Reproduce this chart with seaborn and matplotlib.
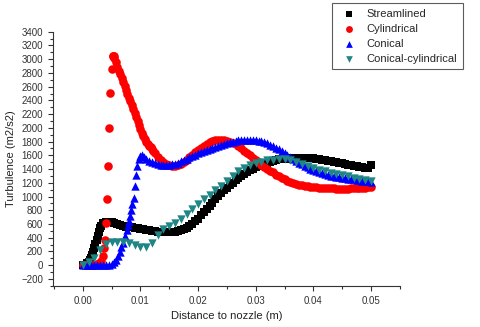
import numpy as np
import pandas as pd
import seaborn as sns
import matplotlib.pyplot as plt
from matplotlib.ticker import MultipleLocator

# Streamlined (black squares): fine mesh near the nozzle, then 0.0005 m
x_stream = [0.0, 0.0005, 0.0008, 0.001, 0.0012, 0.0014, 0.0016, 0.0018, 0.002, 0.0022,
            0.0024, 0.0026, 0.0028, 0.003, 0.0032, 0.0035] + \
           [round(0.004 + i * 0.0005, 4) for i in range(93)]
y_stream = [0, 10, 25, 50, 80, 110, 150, 195, 250, 310,
            370, 430, 490, 540, 575, 610,
            635, 635,
            630, 615, 600, 585, 570, 562, 555, 550, 545, 538,
            530, 522, 515, 507, 500, 494, 490, 487, 485, 484,
            485, 487, 490, 498, 510, 523, 540, 568, 600, 638,
            680, 725, 770, 815, 860, 910, 960, 1005, 1050, 1090,
            1130, 1165, 1200, 1235, 1270, 1300, 1330, 1355, 1380, 1403,
            1425, 1445, 1465, 1480, 1495, 1508, 1520, 1530, 1540, 1545,
            1550, 1553, 1555, 1558, 1560, 1560, 1560, 1560, 1560, 1558,
            1555, 1550, 1545, 1538, 1530, 1522, 1515, 1508, 1500, 1492,
            1485, 1475, 1465, 1458, 1450, 1442, 1435, 1428, 1420, 1413,
            1455]

# Cylindrical (red circles)
x_cyl = [0.0, 0.0005, 0.001, 0.0015, 0.002, 0.0025, 0.0028, 0.0032, 0.0035, 0.0037,
         0.0039, 0.0041, 0.0042, 0.0044, 0.0046, 0.0048, 0.005, 0.0052, 0.0053, 0.0054] + \
        [round(0.0055 + i * 0.00025, 5) for i in range(29)] + \
        [round(0.013 + i * 0.0005, 4) for i in range(75)]
y_cyl = [0, 0, 0, 5, 10, 20, 35, 55, 130, 247,
         370, 610, 970, 1450, 1995, 2505, 2855, 3040, 3050, 3045,
         3020, 2955, 2890, 2835, 2780, 2722, 2665, 2608, 2552, 2496,
         2440, 2385, 2330, 2275, 2220, 2160, 2100, 2042, 1985, 1932,
         1880, 1838, 1800, 1770, 1740, 1715, 1690, 1660, 1630,
         1575, 1530, 1500, 1475, 1458,
         1448, 1445, 1452, 1470, 1498, 1530, 1570, 1610, 1645, 1680,
         1712, 1740, 1767, 1790, 1807, 1820, 1825, 1825, 1818, 1810,
         1797, 1780, 1758, 1730, 1700, 1670, 1636, 1600, 1565, 1530,
         1497, 1465, 1435, 1405, 1378, 1350, 1320, 1295, 1272, 1250,
         1230, 1212, 1197, 1185, 1175, 1165, 1157, 1150, 1145, 1140,
         1135, 1130, 1127, 1124, 1121, 1119, 1117, 1116, 1115, 1115,
         1115, 1116, 1117, 1118, 1120, 1122, 1125, 1128, 1132, 1140]

# Conical (blue triangles)
x_con = [0.0, 0.0005, 0.001, 0.0015, 0.002, 0.0025, 0.003, 0.0035, 0.004, 0.0045,
         0.005, 0.0055, 0.0058, 0.0061, 0.0064, 0.0067, 0.007, 0.0073, 0.0076, 0.0078,
         0.008, 0.0082, 0.0084, 0.0086, 0.0088, 0.009, 0.0092, 0.0094, 0.0097, 0.01,
         0.0103, 0.0107, 0.011] + [round(0.0115 + i * 0.0005, 4) for i in range(78)]
y_con = [0, 0, 0, 0, 0, 0, 0, 2, 5, 10,
         20, 40, 77, 130, 190, 271, 330, 420, 510, 590,
         650, 720, 800, 890, 980, 1150, 1314, 1445, 1540, 1590,
         1600, 1570, 1545,
         1520, 1500, 1485, 1472, 1463, 1458, 1457, 1460, 1468, 1480,
         1495, 1512, 1530, 1550, 1570, 1590, 1610, 1628, 1645, 1660,
         1675, 1690, 1705, 1720, 1735, 1750, 1765, 1778, 1790, 1800,
         1810, 1818, 1824, 1828, 1830, 1830, 1828, 1823, 1815, 1805,
         1792, 1775, 1755, 1735, 1710, 1685, 1658, 1630, 1602, 1575,
         1548, 1520, 1495, 1470, 1447, 1425, 1405, 1387, 1370, 1355,
         1340, 1328, 1316, 1305, 1295, 1287, 1280, 1273, 1266, 1260,
         1254, 1248, 1242, 1236, 1230, 1225, 1220, 1215]

# Conical-cylindrical (teal down triangles), 0.001 m grid
x_cc = [round(i * 0.001, 3) for i in range(51)]
y_cc = [0, 40, 110, 220, 310, 345, 345, 335, 320, 300,
        265, 270, 330, 440, 520, 570, 620, 680, 750, 820,
        890, 960, 1025, 1090, 1160, 1230, 1300, 1370, 1420, 1460,
        1490, 1510, 1525, 1535, 1545, 1545, 1530, 1505, 1475, 1445,
        1415, 1390, 1368, 1345, 1330, 1315, 1295, 1275, 1255, 1240,
        1225]

names = ["Streamlined", "Cylindrical", "Conical", "Conical-cylindrical"]
df = pd.concat([
    pd.DataFrame({"x": x_stream, "y": y_stream, "case": names[0]}),
    pd.DataFrame({"x": x_cyl, "y": y_cyl, "case": names[1]}),
    pd.DataFrame({"x": x_con, "y": y_con, "case": names[2]}),
    pd.DataFrame({"x": x_cc, "y": y_cc, "case": names[3]}),
])

sns.set_style("ticks")
plt.rcParams["font.family"] = ["Liberation Sans", "DejaVu Sans"]

fig = plt.figure(figsize=(4.8, 3.27), dpi=100)
ax = fig.add_axes([0.110, 0.126, 0.723, 0.777])

palette = {names[0]: "black", names[1]: "#ff0000", names[2]: "#0000ff", names[3]: "#1f8585"}
markers = {names[0]: "s", names[1]: "o", names[2]: "^", names[3]: "v"}
sizes = {names[0]: 28, names[1]: 38, names[2]: 36, names[3]: 36}

for name in names:
    sub = df[df["case"] == name]
    sns.scatterplot(data=sub, x="x", y="y", color=palette[name], marker=markers[name],
                    s=sizes[name], linewidth=0, label=name, ax=ax, zorder=3)

ax.set_xlim(-0.0052, 0.055)
ax.set_ylim(-300, 3400)
ax.xaxis.set_minor_locator(MultipleLocator(0.005))
ax.yaxis.set_minor_locator(MultipleLocator(100))
ax.set_xticks([0, 0.01, 0.02, 0.03, 0.04, 0.05])
ax.set_xticklabels(["0.00", "0.01", "0.02", "0.03", "0.04", "0.05"])
ax.set_yticks(list(range(-200, 3401, 200)))
ax.tick_params(axis="both", which="major", labelsize=7, length=3.5, width=0.8,
               direction="out", colors="#333333", labelcolor="#333333")
ax.tick_params(axis="both", which="minor", length=2, width=0.8, direction="out", colors="#333333")

sns.despine(ax=ax)
for sp in ["left", "bottom"]:
    ax.spines[sp].set_linewidth(0.8)
    ax.spines[sp].set_color("#333333")

ax.set_xlabel("Distance to nozzle (m)", fontsize=8, color="#222222")
ax.set_ylabel("Turbulence (m2/s2)", fontsize=8, color="#222222")

leg = ax.legend(loc="upper left", bbox_to_anchor=(0.692, 0.99), bbox_transform=fig.transFigure,
                fontsize=8, frameon=True, fancybox=False, borderpad=0.5,
                handletextpad=0.6, labelspacing=0.45, markerscale=0.8, borderaxespad=0)
leg.get_frame().set_edgecolor("#333333")
leg.get_frame().set_linewidth(0.8)

fig.savefig("out.png", dpi=100)
